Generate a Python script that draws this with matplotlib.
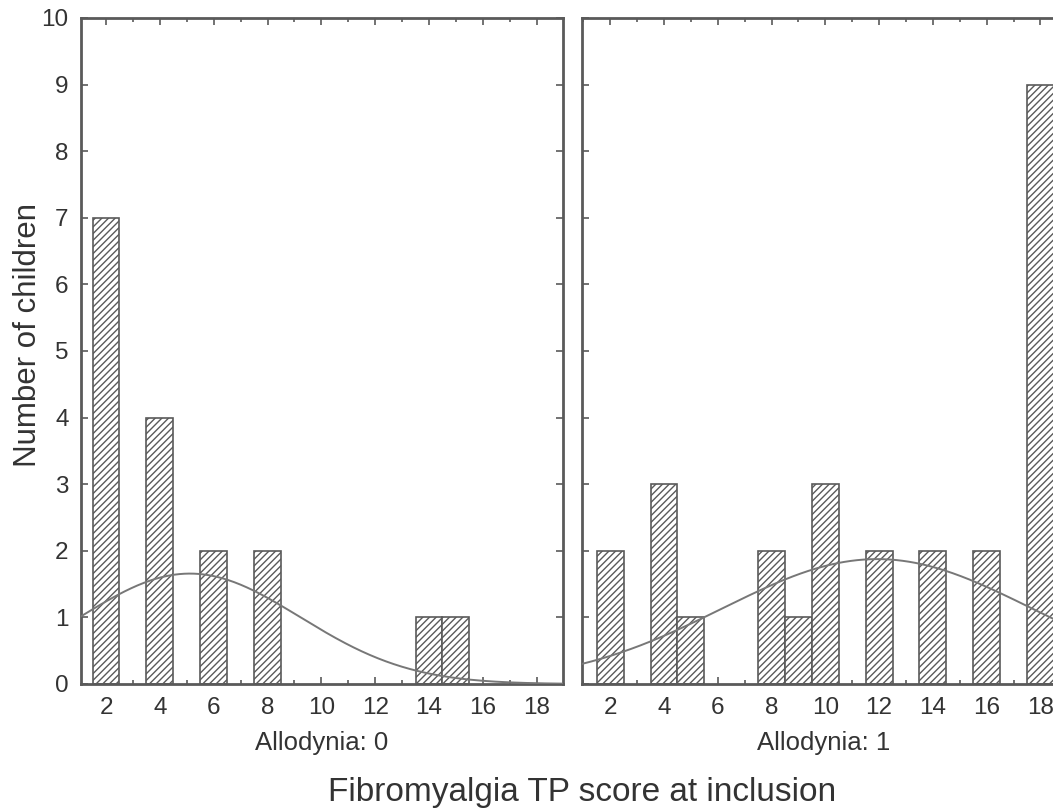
import numpy as np
import matplotlib.pyplot as plt
from matplotlib.ticker import MultipleLocator

plt.rcParams['font.family'] = ['Liberation Sans', 'DejaVu Sans']
plt.rcParams['hatch.color'] = '#555555'
plt.rcParams['hatch.linewidth'] = 1.0

# TP score (x) and number of children per panel
scores_a0 = [2, 4, 6, 8, 14, 15]
counts_a0 = [7, 4, 2, 2, 1, 1]
scores_a1 = [2, 4, 5, 8, 9, 10, 12, 14, 16, 18]
counts_a1 = [2, 3, 1, 2, 1, 3, 2, 2, 2, 9]
panel_titles = ['Allodynia: 0', 'Allodynia: 1']
xticks = [2, 4, 6, 8, 10, 12, 14, 16, 18]

W, H = 1053, 811
fig = plt.figure(figsize=(W / 100, H / 100), dpi=100)
fig.patch.set_facecolor('white')

gray = '#5a5a5a'
txt = '#333333'


def normalFit(scores, counts, x):
    # expected counts from a normal fitted to the panel's data
    s = np.repeat(scores, counts).astype(float)
    m, sd = s.mean(), s.std(ddof=1)
    return len(s) * np.exp(-0.5 * ((x - m) / sd) ** 2) / (sd * np.sqrt(2 * np.pi))


def drawPanel(ax, scores, counts, title, xlim, ylabels):
    ax.bar(scores, counts, width=1.0, color='white', edgecolor=gray,
           hatch='/////', linewidth=1.2, zorder=2)
    x = np.linspace(xlim[0], xlim[1], 300)
    ax.plot(x, normalFit(scores, counts, x), color='#777777', lw=1.4, zorder=3)
    ax.set_xlim(*xlim)
    ax.set_ylim(0, 10)
    ax.set_xticks(xticks)
    ax.xaxis.set_minor_locator(MultipleLocator(1))
    ax.set_yticks(range(0, 11))
    ax.tick_params(which='both', direction='in', top=True, right=True,
                   colors=gray, labelcolor=txt, labelsize=17.5, width=1.2)
    ax.tick_params(which='major', length=5, pad=9)
    ax.tick_params(which='minor', length=3)
    if not ylabels:
        ax.tick_params(axis='y', labelleft=False)
    for sp in ax.spines.values():
        sp.set_color(gray)
        sp.set_linewidth(2)
    ax.set_xlabel(title, fontsize=18.5, color=txt, labelpad=9)


ax1 = fig.add_axes([81 / W, 1 - 684 / H, 482 / W, 666 / H])
ax2 = fig.add_axes([582 / W, 1 - 684 / H, 484 / W, 666 / H])

drawPanel(ax1, scores_a0, counts_a0, panel_titles[0], (1.07, 18.98), True)
drawPanel(ax2, scores_a1, counts_a1, panel_titles[1], (0.95, 18.95), False)

fig.text(28 / W, 1 - 335 / H, 'Number of children', rotation=90,
         ha='center', va='center', fontsize=22.5, color=txt)
fig.text(582 / W, 1 - 792 / H, 'Fibromyalgia TP score at inclusion',
         ha='center', va='center', fontsize=24, color=txt)

fig.savefig('out.png', dpi=100, facecolor='white')
